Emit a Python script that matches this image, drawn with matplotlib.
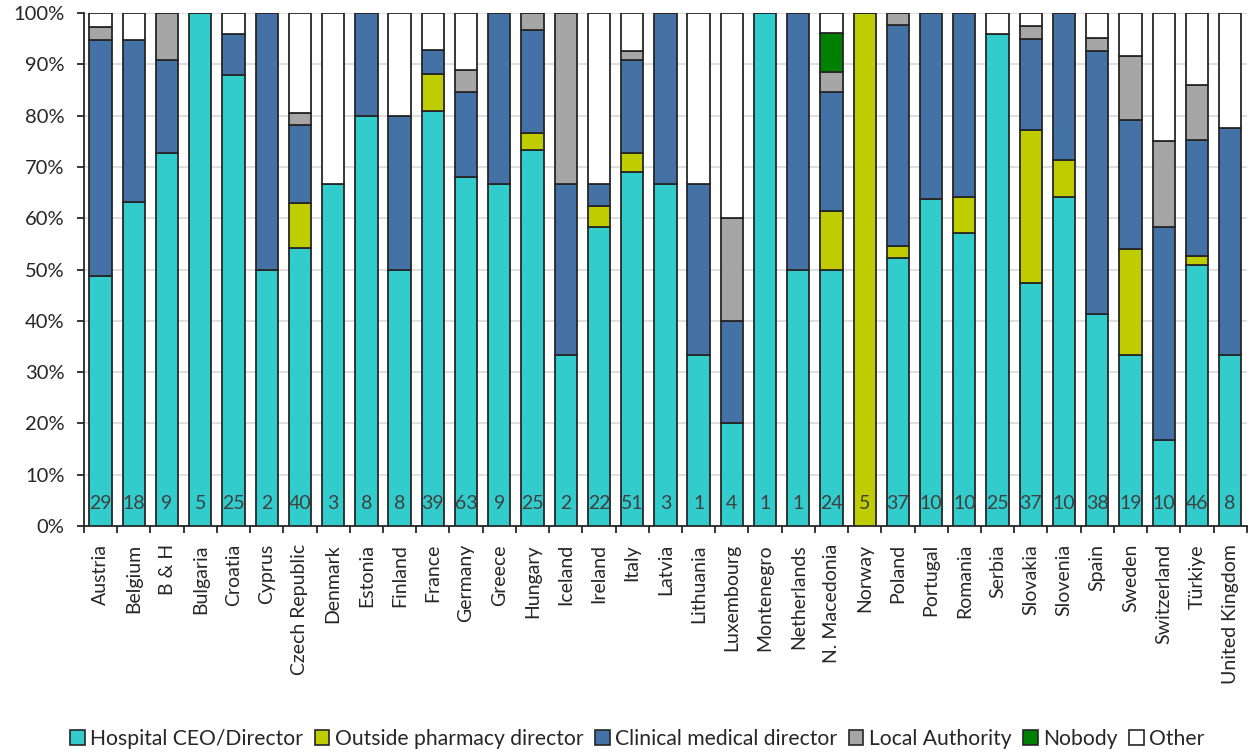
import matplotlib
matplotlib.use("Agg")
import matplotlib.pyplot as plt
import numpy as np
from matplotlib.patches import Patch
from matplotlib.ticker import FixedLocator, PercentFormatter

plt.rcParams['font.family'] = ['Lato', 'DejaVu Sans']

countries = ["Austria", "Belgium", "B & H", "Bulgaria", "Croatia", "Cyprus", "Czech Republic",
             "Denmark", "Estonia", "Finland", "France", "Germany", "Greece", "Hungary", "Iceland",
             "Ireland", "Italy", "Latvia", "Lithuania", "Luxembourg", "Montenegro", "Netherlands",
             "N. Macedonia", "Norway", "Poland", "Portugal", "Romania", "Serbia", "Slovakia",
             "Slovenia", "Spain", "Sweden", "Switzerland", "Türkiye", "United Kingdom"]
counts = [29, 18, 9, 5, 25, 2, 40, 3, 8, 8, 39, 63, 9, 25, 2, 22, 51, 3, 1, 4, 1, 1, 24, 5,
          37, 10, 10, 25, 37, 10, 38, 19, 10, 46, 8]

hospital_ceo = [48.7, 63.1, 72.8, 100, 88.0, 50.0, 54.3, 66.7, 80.0, 50.0, 81.0, 68.0, 66.7, 73.3,
                33.3, 58.3, 69.1, 66.7, 33.3, 20.0, 100, 50.0, 50.0, 0, 52.3, 63.7, 57.2, 96.0,
                47.3, 64.2, 41.4, 33.3, 16.7, 50.8, 33.3]
outside_pharm = [0, 0, 0, 0, 0, 0, 8.7, 0, 0, 0, 7.1, 0, 0, 3.4, 0, 4.1, 3.7, 0, 0, 0, 0, 0,
                 11.4, 100, 2.3, 0, 7.0, 0, 30.0, 7.2, 0, 20.8, 0, 1.8, 0]
clinical = [46.1, 31.7, 18.1, 0, 8.0, 50.0, 15.1, 0, 20.0, 30.0, 4.7, 16.7, 33.3, 20.0, 33.4,
            4.3, 18.1, 33.3, 33.4, 20.0, 0, 50.0, 23.2, 0, 43.0, 36.3, 35.8, 0, 17.7, 28.6,
            51.3, 25.1, 41.6, 22.7, 44.4]
local_auth = [2.6, 0, 9.1, 0, 0, 0, 2.4, 0, 0, 0, 0, 4.2, 0, 3.3, 33.3, 0, 1.8, 0, 0, 20.0, 0,
              0, 4.0, 0, 2.4, 0, 0, 0, 2.5, 0, 2.5, 12.5, 16.7, 10.6, 0]
nobody = [0] * 22 + [7.6] + [0] * 12
other = [2.6, 5.2, 0, 0, 4.0, 0, 19.5, 33.3, 0, 20.0, 7.2, 11.1, 0, 0, 0, 33.3, 7.3, 0, 33.3,
         40.0, 0, 0, 3.8, 0, 0, 0, 0, 4.0, 2.5, 0, 4.8, 8.3, 25.0, 14.1, 22.3]

series = [("Hospital CEO/Director", hospital_ceo, "#33CCCC"),
          ("Outside pharmacy director", outside_pharm, "#BFCC00"),
          ("Clinical medical director", clinical, "#4472A7"),
          ("Local Authority", local_auth, "#A6A6A6"),
          ("Nobody", nobody, "#008000"),
          ("Other", other, "#FFFFFF")]

fig = plt.figure(figsize=(12.52, 7.53), dpi=100)
ax = fig.add_axes([0.0671, 0.3015, 0.9287, 0.681])

x = np.arange(len(countries))
bottom = np.zeros(len(countries))
edge = "#262626"
for name, vals, col in series:
    v = np.array(vals, dtype=float)
    ax.bar(x, v, 0.67, bottom=bottom, color=col, edgecolor=edge, linewidth=1.3, zorder=3,
           label=name)
    bottom += v

for xi, c in zip(x, counts):
    ax.text(xi, 4.4, str(c), ha='center', va='center', fontsize=14, color='#404040', zorder=4)

ax.set_xlim(-0.5, len(countries) - 0.5)
ax.set_ylim(0, 100)
ax.yaxis.set_major_locator(FixedLocator(np.arange(0, 101, 10)))
ax.yaxis.set_major_formatter(PercentFormatter(decimals=0))
ax.grid(axis='y', color='#D9D9D9', linewidth=1.2, zorder=0)
ax.set_axisbelow(True)

ax.set_xticks(x)
ax.set_xticklabels(countries, rotation=90, fontsize=14, color='#262626')
ax.tick_params(axis='x', which='major', length=0, pad=13)
ax.set_xticks(np.arange(-0.5, len(countries), 1), minor=True)
ax.tick_params(axis='x', which='minor', length=5, width=1.3, color=edge)
ax.tick_params(axis='y', length=5, width=1.3, color=edge, labelsize=14.5,
               labelcolor='#262626', pad=9)

for s in ['top', 'right']:
    ax.spines[s].set_visible(False)
for s in ['left', 'bottom']:
    ax.spines[s].set_color(edge)
    ax.spines[s].set_linewidth(1.3)

handles = [Patch(facecolor=col, edgecolor=edge, linewidth=1.2, label=name)
           for name, _, col in series]
fig.legend(handles=handles, loc='center', bbox_to_anchor=(0.509, 0.019), ncol=6,
           frameon=False, fontsize=15.2, handlelength=0.7, handleheight=0.7,
           handletextpad=0.25, columnspacing=0.55, labelcolor='#262626')

fig.savefig("out.png", dpi=100)
